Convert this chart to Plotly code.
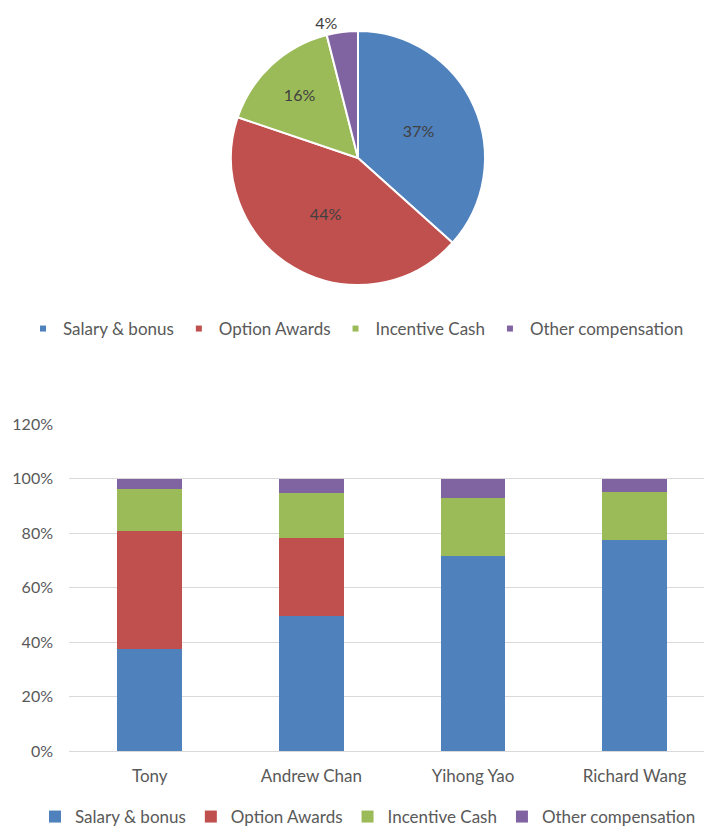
import plotly.graph_objects as go

# Pie data
pie_labels = ["Salary & bonus", "Option Awards", "Incentive Cash", "Other compensation"]
pie_values = [37, 44, 16, 4]

# Bar data
people = ["Tony", "Andrew Chan", "Yihong Yao", "Richard Wang"]
salary = [0.374, 0.496, 0.714, 0.775]
option = [0.432, 0.285, 0.0, 0.0]
incentive = [0.156, 0.165, 0.215, 0.174]
other = [0.038, 0.054, 0.071, 0.051]
y_ticks = [0, 0.2, 0.4, 0.6, 0.8, 1.0, 1.2]

colors = ["#4F81BD", "#C0504D", "#9BBB59", "#8064A2"]
FONT = "Lato, Open Sans, sans-serif"
W, H = 704, 828

fig = go.Figure()

fig.add_trace(go.Pie(
    labels=pie_labels, values=pie_values, sort=False, direction="clockwise", rotation=0,
    marker=dict(colors=colors, line=dict(color="white", width=2)),
    texttemplate="%{percent:.0%}", textposition=["inside", "inside", "inside", "outside"],
    textfont=dict(family=FONT, size=16, color="#404040"),
    insidetextorientation="horizontal",
    domain=dict(x=[231 / W, 485 / W], y=[1 - 285 / H, 1 - 31 / H]),
    showlegend=False, automargin=False,
))

# small-square legend entries for the pie (legend only, no marks drawn)
for lab, c in zip(pie_labels, colors):
    fig.add_trace(go.Scatter(
        x=[None], y=[None], mode="markers", name=lab,
        marker=dict(symbol="square", size=6, color=c),
        legend="legend", showlegend=True, xaxis="x", yaxis="y", hoverinfo="skip",
    ))

series = [("Salary & bonus", salary), ("Option Awards", option),
          ("Incentive Cash", incentive), ("Other compensation", other)]
for (name, vals), c in zip(series, colors):
    fig.add_trace(go.Bar(
        x=people, y=vals, name=name, marker=dict(color=c, line=dict(width=0)),
        legend="legend2", xaxis="x", yaxis="y",
    ))

fig.update_layout(
    width=W, height=H, margin=dict(l=0, r=0, t=0, b=0, autoexpand=False),
    paper_bgcolor="white", plot_bgcolor="white",
    font=dict(family=FONT, color="#595959"),
    barmode="stack", bargap=0.6,
    xaxis=dict(type="category", categoryorder="array", categoryarray=people,
               domain=[69 / W, 1], range=[-0.5, 3.43], showgrid=False,
               showline=False, zeroline=False, ticks="", automargin=False,
               tickfont=dict(size=17, color="#595959"), ticklabelstandoff=13),
    yaxis=dict(domain=[1 - 751 / H, 1 - 424 / H], range=[0, 1.2], tickvals=y_ticks,
               tickformat=".0%", showgrid=True, gridcolor="#D9D9D9", gridwidth=1,
               zeroline=True, zerolinecolor="#D9D9D9", zerolinewidth=1, showline=False,
               automargin=False,
               tickfont=dict(size=16, color="#595959"), ticklabelstandoff=15),
    legend=dict(orientation="h", x=356 / W, xanchor="center", y=1 - 329 / H, yanchor="middle",
                font=dict(size=17, color="#595959"), itemwidth=30, traceorder="normal",
                itemsizing="trace"),
    legend2=dict(orientation="h", x=368 / W, xanchor="center", y=1 - 817 / H, yanchor="middle",
                 font=dict(size=17, color="#595959"), itemwidth=30, traceorder="normal"),
)

fig.write_html("out.html", config={"displayModeBar": False},
               post_script="document.body.style.margin='0';document.body.style.overflow='hidden';")
